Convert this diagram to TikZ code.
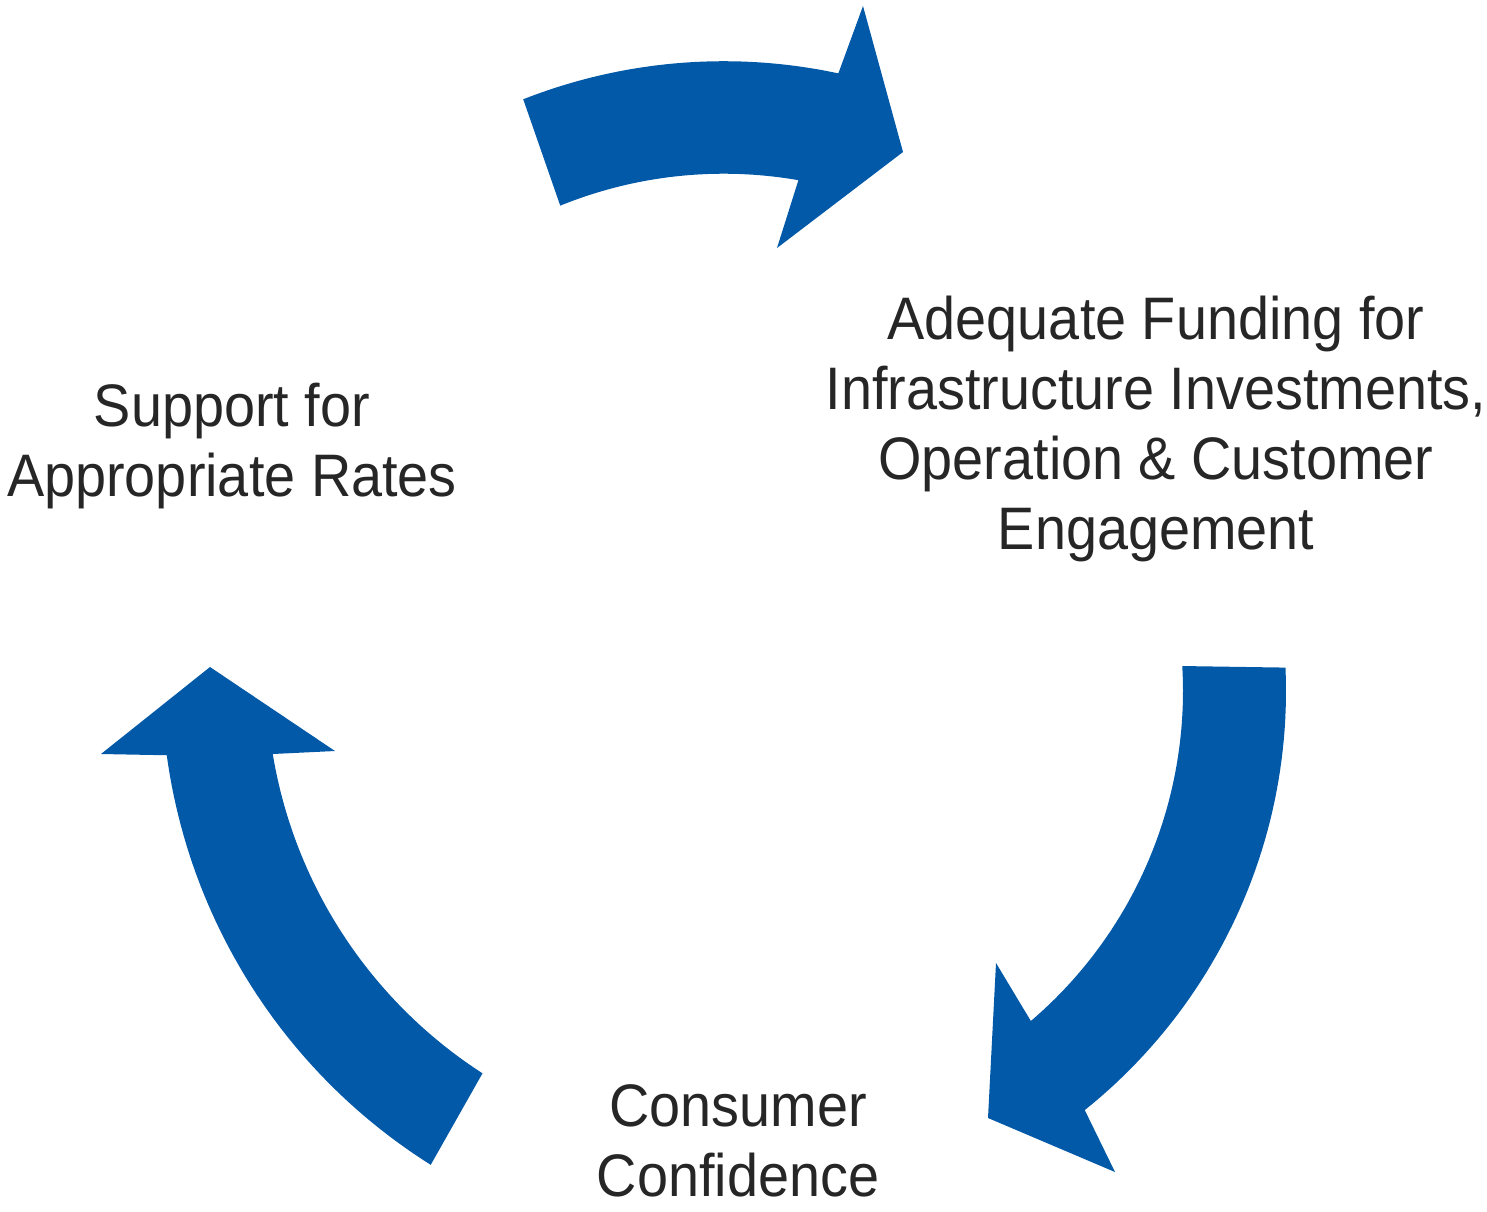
\documentclass[tikz,border=0pt]{standalone}
\usepackage{fontspec}
\setmainfont[FakeStretch=0.93]{Liberation Sans}
\definecolor{cycleblue}{RGB}{2,89,168}
\definecolor{labelgray}{RGB}{38,38,38}
\begin{document}
\begin{tikzpicture}[x={(0.5pt,0)}, y={(0,-0.5pt)},
  cyclelabel/.style={align=center, inner sep=0pt, text=labelgray,
    font=\fontsize{30pt}{35pt}\selectfont},
  arrowshape/.style={fill=cycleblue}]
\useasboundingbox (0,0) rectangle (1487,1211);

% top arrow (towards the funding label)
\coordinate (t-w1) at (863,6);
\coordinate (t-tip) at (903,152);
\coordinate (t-w2) at (777,248);
\fill[arrowshape]
  plot[domain=-111.5:-77.9, samples=50, variable=\t] ({723.7+547*cos(\t)},{608.2+547*sin(\t)})
  -- (t-w1) -- (t-tip) -- (t-w2)
  -- plot[domain=-80.1:-112.1, samples=50, variable=\t] ({723.7+434.5*cos(\t)},{608.2+434.5*sin(\t)})
  -- cycle;

% right arrow (towards consumer confidence)
\coordinate (r-w1) at (1115,1172);
\coordinate (r-tip) at (988,1118);
\coordinate (r-w2) at (996,963);
\fill[arrowshape]
  plot[domain=-2.5:51.3, samples=50, variable=\t] ({749+537*cos(\t)},{691+537*sin(\t)})
  -- (r-w1) -- (r-tip) -- (r-w2)
  -- plot[domain=49.5:-3.3, samples=50, variable=\t] ({749+434*cos(\t)},{691+434*sin(\t)})
  -- cycle;

% left arrow (towards support label)
\coordinate (l-w1) at (101,754);
\coordinate (l-tip) at (210,667);
\coordinate (l-w2) at (335,751);
\fill[arrowshape]
  plot[domain=122.2:172.2, samples=50, variable=\t] ({737.9+576.5*cos(\t)},{677+576.5*sin(\t)})
  -- (l-w1) -- (l-tip) -- (l-w2)
  -- plot[domain=170.6:122.8, samples=50, variable=\t] ({737.9+471.5*cos(\t)},{677+471.5*sin(\t)})
  -- cycle;

\node[cyclelabel] (support) at (232,446.4) {Support for\\Appropriate Rates};
\node[cyclelabel] (funding) at (1156,429.4) {Adequate Funding for\\Infrastructure Investments,\\Operation \& Customer\\Engagement};
\node[cyclelabel] (consumer) at (738,1140.5) {Consumer\\Confidence};
\end{tikzpicture}
\end{document}
